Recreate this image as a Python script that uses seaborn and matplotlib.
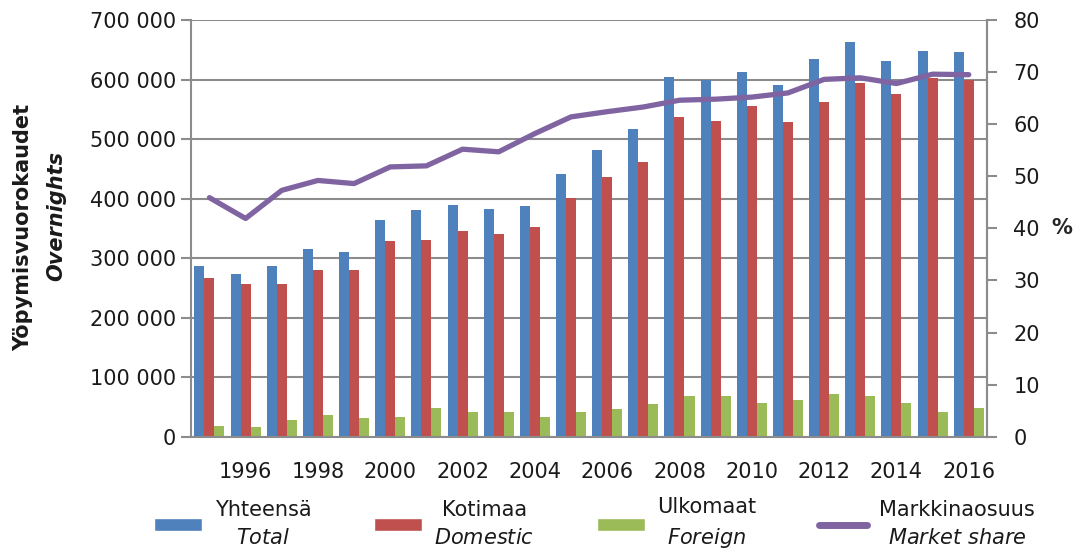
import numpy as np
import pandas as pd
import matplotlib
matplotlib.use("Agg")
import matplotlib.pyplot as plt
import matplotlib.ticker as mticker
from matplotlib.patches import Patch
from matplotlib.lines import Line2D
import seaborn as sns

# ---- data ----
years = list(range(1995, 2017))
total = [286000, 273000, 286000, 316000, 310000, 364000, 381000, 389000, 383000, 387000, 441000,
         482000, 517000, 605000, 599000, 612000, 590000, 635000, 663000, 631000, 648000, 646000]
domestic = [266000, 256000, 256000, 280000, 280000, 329000, 331000, 346000, 340000, 353000, 401000,
            437000, 461000, 537000, 530000, 556000, 528000, 562000, 595000, 575000, 603000, 599000]
foreign = [18500, 16000, 29000, 36000, 31500, 34000, 49000, 42000, 42000, 34000, 42000,
           46500, 55000, 68000, 68000, 57000, 62000, 72000, 68000, 57000, 42000, 49000]
market_share = [45.9, 41.9, 47.3, 49.2, 48.6, 51.8, 52.0, 55.2, 54.7, 58.2, 61.4,
                62.4, 63.3, 64.6, 64.8, 65.2, 66.0, 68.6, 68.9, 67.8, 69.6, 69.5]

series_names = ["Yhteensä", "Kotimaa", "Ulkomaat"]
colors = ["#4F81BD", "#C0504D", "#9BBB59"]
line_color = "#8064A2"

df = pd.DataFrame({
    "year": years * 3,
    "series": [s for s in series_names for _ in years],
    "value": total + domestic + foreign,
})

sns.set_theme(style="white")
plt.rcParams["font.family"] = ["DejaVu Sans"]
plt.rcParams["mathtext.fontset"] = "custom"
plt.rcParams["mathtext.it"] = "DejaVu Sans:italic"
plt.rcParams["text.color"] = "#1a1a1a"
plt.rcParams["xtick.color"] = "#1a1a1a"
plt.rcParams["ytick.color"] = "#1a1a1a"

fig, ax = plt.subplots(figsize=(10.75, 5.55), dpi=100)
fig.subplots_adjust(left=0.178, right=0.918, top=0.964, bottom=0.213)

sns.barplot(data=df, x="year", y="value", hue="series", palette=colors,
            width=0.83, saturation=1, ax=ax, legend=False, linewidth=0)

ax.set_ylim(0, 700000)
ax.set_xlim(-0.5, len(years) - 0.5)
ax.yaxis.set_major_locator(mticker.MultipleLocator(100000))
ax.yaxis.set_major_formatter(mticker.FuncFormatter(lambda v, p: f"{int(v):,}".replace(",", " ")))
ax.grid(axis="y", color="#8c8c8c", linewidth=1.5)
ax.set_axisbelow(True)
for s in ["left", "bottom", "right"]:
    ax.spines[s].set_color("#8c8c8c")
    ax.spines[s].set_linewidth(1.5)
ax.spines["top"].set_visible(False)

# x ticks: labels on even years, tick marks at category boundaries
ax.set_xticks([i for i, y in enumerate(years) if y % 2 == 0])
ax.set_xticklabels([str(y) for y in years if y % 2 == 0])
ax.set_xticks(np.arange(-0.5, len(years), 1), minor=True)
ax.tick_params(axis="x", which="major", length=0, pad=18, labelsize=15)
ax.tick_params(axis="x", which="minor", length=7, width=1.5, color="#8c8c8c", direction="out")
ax.tick_params(axis="y", length=7, width=1.5, color="#8c8c8c", labelcolor="#1a1a1a",
               labelsize=15, pad=4, left=True)
ax.set_xlabel("")
ax.set_ylabel("")

# market share on secondary axis
ax2 = ax.twinx()
sns.lineplot(x=np.arange(len(years)), y=market_share, ax=ax2, color=line_color,
             linewidth=3.8, solid_capstyle="round")
ax2.set_ylim(0, 80)
ax2.yaxis.set_major_locator(mticker.MultipleLocator(10))
ax2.tick_params(axis="y", length=7, width=1.5, color="#8c8c8c", labelcolor="#1a1a1a",
                labelsize=15, pad=12, right=True)
for s in ["left", "bottom", "top"]:
    ax2.spines[s].set_visible(False)
ax2.spines["right"].set_color("#8c8c8c")
ax2.spines["right"].set_linewidth(1.5)
ax2.grid(False)
ax2.set_ylabel("%", rotation=0, fontsize=15, fontweight="bold", labelpad=16, va="center")

# axis titles
fig.text(0.022, 0.59, "Yöpymisvuorokaudet", rotation=90, fontsize=15, fontweight="bold",
         ha="center", va="center")
fig.text(0.052, 0.61, "Overnights", rotation=90, fontsize=15, fontweight="bold",
         style="italic", ha="center", va="center")

# legend
handles = [Patch(facecolor=c) for c in colors] + [Line2D([], [], color=line_color, linewidth=5)]
labels = ["Yhteensä\n$\\mathit{Total}$", "Kotimaa\n$\\mathit{Domestic}$",
          "Ulkomaat\n$\\mathit{Foreign}$", "Markkinaosuus\n$\\mathit{Market\\ share}$"]
leg = fig.legend(handles, labels, loc="lower center", bbox_to_anchor=(0.553, -0.025), ncol=4,
                 frameon=False, fontsize=15, handlelength=2.3, handleheight=0.6,
                 columnspacing=3.0, handletextpad=0.6)
for t in leg.get_texts():
    t.set_multialignment("center")
    t.set_linespacing(1.5)

fig.savefig("out.png", dpi=100)
